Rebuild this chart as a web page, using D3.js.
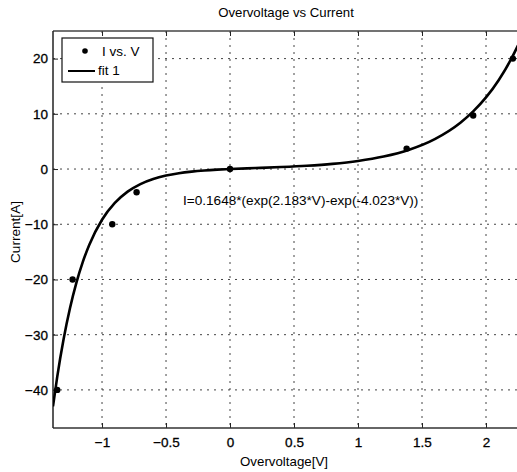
<!DOCTYPE html>
<html>
<head>
<meta charset="utf-8">
<script src="https://cdn.jsdelivr.net/npm/d3@7"></script>
<style>
  html, body { margin: 0; padding: 0; background: #fff; }
  svg { display: block; }
  text { font-family: "Liberation Sans", Arial, sans-serif; fill: #000; }
</style>
</head>
<body>
<svg id="chart" width="517" height="472"></svg>
<script>
// measured data: voltage [V] vs current [A]
const measuredV = [-1.35, -1.23, -0.92, -0.73, 0.0, 1.38, 1.90, 2.21];
const measuredI = [-40, -20, -10, -4.2, 0.0, 3.7, 9.7, 20];

// fit curve samples
const fitV = [-1.383, -1.35, -1.3, -1.25, -1.2, -1.15, -1.1, -1.0, -0.9, -0.8, -0.7, -0.6, -0.5, -0.4, -0.3, -0.2, -0.1, 0.0, 0.2, 0.4, 0.6, 0.8, 1.0, 1.2, 1.4, 1.6, 1.8, 1.9, 2.0, 2.1, 2.2, 2.25];
const fitI = [-42.99, -37.63, -30.77, -25.16, -20.57, -16.81, -13.75, -9.19, -6.14, -4.09, -2.72, -1.80, -1.18, -0.755, -0.465, -0.262, -0.114, 0.0, 0.181, 0.362, 0.596, 0.938, 1.459, 2.262, 3.502, 5.418, 8.384, 10.43, 12.97, 16.14, 20.07, 22.39];

const xTicks = [-1, -0.5, 0, 0.5, 1, 1.5, 2];
const yTicks = [-40, -30, -20, -10, 0, 10, 20];
const xDomain = [-1.383, 2.25];
const yDomain = [-46.9, 25];

const titleText = "Overvoltage vs Current";
const xLabelText = "Overvoltage[V]";
const yLabelText = "Current[A]";
const legendLabels = ["I vs. V", "fit 1"];
const fitEquation = "I=0.1648*(exp(2.183*V)-exp(-4.023*V))";

const svg = d3.select("#chart");
const L = 53, R = 518, T = 31, B = 428;

const x = d3.scaleLinear().domain(xDomain).range([L, R]);
const y = d3.scaleLinear().domain(yDomain).range([B, T]);

// grid
const grid = svg.append("g");
grid.selectAll(".gx").data(xTicks).join("line")
  .attr("x1", d => x(d)).attr("x2", d => x(d))
  .attr("y1", T).attr("y2", B)
  .attr("stroke", "#444").attr("stroke-width", 1).attr("stroke-dasharray", "2,5");
grid.selectAll(".gy").data(yTicks).join("line")
  .attr("y1", d => y(d)).attr("y2", d => y(d))
  .attr("x1", L).attr("x2", R)
  .attr("stroke", "#444").attr("stroke-width", 1).attr("stroke-dasharray", "2,5");

// axes with inside ticks
const xAxisB = d3.axisBottom(x).tickValues(xTicks).tickSize(-5).tickPadding(9).tickFormat(d3.format("~g"));
const xAxisT = d3.axisTop(x).tickValues(xTicks).tickSize(-5).tickFormat("");
const yAxisL = d3.axisLeft(y).tickValues(yTicks).tickSize(-5).tickPadding(5).tickFormat(d3.format("~g"));

function styleAxis(g) {
  g.select(".domain").remove();
  g.selectAll(".tick line").attr("stroke", "#222").attr("stroke-width", 1);
  g.selectAll(".tick text").attr("font-size", 13.5).attr("fill", "#000")
    .attr("stroke", "#000").attr("stroke-width", 0.3)
    .attr("font-family", "'Liberation Sans', Arial, sans-serif");
}
svg.append("g").attr("transform", `translate(0,${B})`).call(xAxisB).call(styleAxis);
svg.append("g").attr("transform", `translate(0,${T})`).call(xAxisT).call(styleAxis);
svg.append("g").attr("transform", `translate(${L},0)`).call(yAxisL).call(styleAxis);

// border
svg.append("line").attr("x1", L).attr("x2", R).attr("y1", T).attr("y2", T).attr("stroke", "#444").attr("stroke-width", 1.5);
svg.append("line").attr("x1", L).attr("x2", R).attr("y1", B).attr("y2", B).attr("stroke", "#333").attr("stroke-width", 1.3);
svg.append("line").attr("x1", L).attr("x2", L).attr("y1", T).attr("y2", B).attr("stroke", "#222").attr("stroke-width", 1.5);

// fit line
svg.append("clipPath").attr("id", "clip").append("rect")
  .attr("x", L).attr("y", T).attr("width", R - L).attr("height", B - T);
const line = d3.line().x(d => x(d[0])).y(d => y(d[1])).curve(d3.curveMonotoneX);
svg.append("path").datum(fitV.map((v, i) => [v, fitI[i]]))
  .attr("d", line).attr("fill", "none").attr("stroke", "#000").attr("stroke-width", 2.6)
  .attr("clip-path", "url(#clip)");

// data points
svg.append("g").selectAll("circle").data(measuredV.map((v, i) => [v, measuredI[i]])).join("circle")
  .attr("cx", d => x(d[0])).attr("cy", d => y(d[1])).attr("r", 3.2).attr("fill", "#000");

// equation annotation
svg.append("text").attr("x", 183).attr("y", 205).attr("font-size", 13.6).text(fitEquation);

// legend
const lg = svg.append("g");
lg.append("rect").attr("x", 62).attr("y", 38).attr("width", 91).attr("height", 44)
  .attr("fill", "#fff").attr("stroke", "#111").attr("stroke-width", 1.2);
lg.append("circle").attr("cx", 85).attr("cy", 51).attr("r", 2.8).attr("fill", "#000");
lg.append("text").attr("x", 102).attr("y", 56).attr("font-size", 13.5).text(legendLabels[0]);
lg.append("line").attr("x1", 68).attr("x2", 95).attr("y1", 71).attr("y2", 71).attr("stroke", "#000").attr("stroke-width", 2);
lg.append("text").attr("x", 98).attr("y", 75).attr("font-size", 13.5).text(legendLabels[1]);

// title and labels
svg.append("text").attr("x", 286).attr("y", 17).attr("text-anchor", "middle").attr("font-size", 13.2).text(titleText);
svg.append("text").attr("x", 284).attr("y", 466).attr("text-anchor", "middle").attr("font-size", 13.3).text(xLabelText);
svg.append("text").attr("transform", `translate(20,232) rotate(-90)`).attr("text-anchor", "middle").attr("font-size", 13.6).text(yLabelText);
</script>
</body>
</html>
